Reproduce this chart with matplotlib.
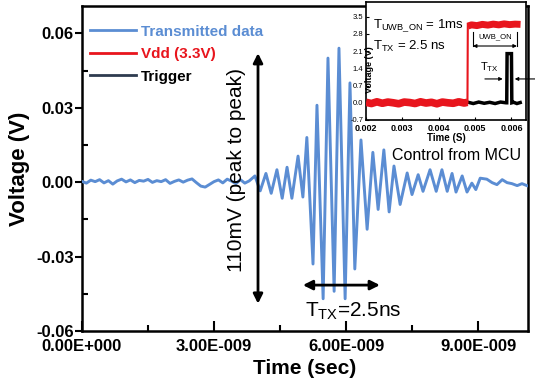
import matplotlib
matplotlib.use('Agg')
import matplotlib.pyplot as plt
from matplotlib.lines import Line2D

plt.rcParams['font.family'] = ['Liberation Sans', 'DejaVu Sans']
plt.rcParams['mathtext.fontset'] = 'custom'
plt.rcParams['mathtext.rm'] = 'Liberation Sans'
plt.rcParams['mathtext.it'] = 'Liberation Sans:italic'
plt.rcParams['mathtext.bf'] = 'Liberation Sans:bold'

# ---------------- data (main waveform) ----------------
noise_t_ns = [0.0, 0.1, 0.2, 0.3, 0.4, 0.5, 0.6, 0.7, 0.8, 0.9,
              1.0, 1.1, 1.2, 1.3, 1.4, 1.5, 1.6, 1.7, 1.8, 1.9,
              2.0, 2.1, 2.2, 2.3, 2.4, 2.5, 2.6, 2.7, 2.8, 2.9,
              3.0, 3.1, 3.2, 3.3, 3.4, 3.5, 3.6, 3.7, 3.8]
noise_mv = [0.3, -0.4, 0.8, 0.2, 1.0, -0.3, 0.6, -0.8, 0.5, 1.2,
            0.1, 0.9, -0.2, 0.7, 0.4, 1.1, -0.1, 0.6, 0.2, 1.0,
            -0.5, 0.3, 0.9, 0.0, 0.8, 1.3, -0.2, -1.6, -2.0, -0.9,
            0.2, 0.9, -0.3, 1.2, 0.4, -0.6, 1.0, -0.4, 0.5]
burst_t_ns = [3.93, 4.05, 4.18, 4.30, 4.43, 4.55, 4.66, 4.77, 4.91, 5.02,
              5.11, 5.25, 5.34, 5.48, 5.59, 5.73, 5.84, 5.98, 6.09, 6.20,
              6.34, 6.48, 6.61, 6.73, 6.86, 6.98, 7.09, 7.23, 7.39, 7.50,
              7.64, 7.75, 7.91, 8.05, 8.18, 8.30, 8.41, 8.50, 8.64, 8.75,
              8.86, 8.95, 9.05, 9.20, 9.32, 9.43, 9.55, 9.66, 9.77, 9.89,
              10.0, 10.11]
burst_mv = [2.5, -3.5, 3.5, -4.5, 5.0, -6.5, 6.0, -6.5, 10.5, -6.0,
            18.0, -33.0, 31.0, -47.0, 50.0, -44.0, 54.0, -47.0, 40.0, -35.0,
            17.0, -19.0, 12.0, -11.0, 13.0, -12.0, 6.5, -9.0, 3.7, -5.0,
            3.0, -3.7, 5.0, -3.7, 5.0, -3.7, 3.5, -4.0, 2.5, -4.0,
            -0.4, -3.0, 1.6, 1.2, -0.2, -1.0, 1.0, -0.2, -0.6, -1.4,
            -0.6, -1.4]

# ---------------- data (inset) ----------------
vdd_low_t = [0.00200, 0.00215, 0.00230, 0.00245, 0.00260, 0.00275, 0.00290, 0.00305,
             0.00320, 0.00335, 0.00350, 0.00365, 0.00380, 0.00395, 0.00410, 0.00425,
             0.00440, 0.00455, 0.00470, 0.00479]
vdd_low_v = [0.02, -0.03, 0.04, -0.02, 0.03, 0.00, -0.04, 0.03, 0.01, -0.03,
             0.04, -0.01, 0.02, -0.04, 0.03, 0.00, -0.02, 0.04, -0.01, 0.02]
vdd_edge_t = [0.00479, 0.00480]
vdd_edge_v = [0.0, 3.2]
vdd_high_t = [0.00480, 0.00490, 0.00505, 0.00520, 0.00535, 0.00550, 0.00565, 0.00580,
              0.00595, 0.00610, 0.00625]
vdd_high_v = [3.12, 3.17, 3.14, 3.19, 3.16, 3.20, 3.17, 3.21, 3.18, 3.20, 3.19]
trig_t = [0.00481, 0.00495, 0.00510, 0.00525, 0.00540, 0.00555, 0.00570, 0.00585,
          0.00587, 0.00588, 0.00600, 0.00601, 0.00606, 0.00615, 0.00624]
trig_v = [0.02, -0.03, 0.03, -0.02, 0.02, -0.03, 0.03, 0.0,
          0.0, 2.0, 2.0, 0.0, 0.02, -0.03, 0.01]

time_s = [t * 1e-9 for t in noise_t_ns + burst_t_ns]
volt_v = [v * 1e-3 for v in noise_mv + burst_mv]

x_ticks = [0.0, 3e-9, 6e-9, 9e-9]
x_tick_labels = ['0.00E+000', '3.00E-009', '6.00E-009', '9.00E-009']
y_ticks = [-0.06, -0.03, 0.0, 0.03, 0.06]
y_tick_labels = ['-0.06', '-0.03', '0.00', '0.03', '0.06']
in_x_ticks = [0.002, 0.003, 0.004, 0.005, 0.006]
in_x_labels = ['0.002', '0.003', '0.004', '0.005', '0.006']
in_y_ticks = [-0.7, 0.0, 0.7, 1.4, 2.1, 2.8, 3.5]
in_y_labels = ['-0.7', '0.0', '0.7', '1.4', '2.1', '2.8', '3.5']

BLUE = '#5b8dd3'
RED = '#e8151d'
TRIG = '#2e3b4f'

fig = plt.figure(figsize=(5.35, 3.92), dpi=100)
ax = fig.add_axes([82 / 535, 61 / 392, 446 / 535, 325 / 392])

ax.plot(time_s, volt_v, color=BLUE, lw=2.1, solid_joinstyle='round', zorder=3)
ax.set_xlim(0, 1.0136e-8)
ax.set_ylim(-0.06, 0.071)

ax.set_xticks(x_ticks)
ax.set_xticklabels(x_tick_labels, fontsize=12, fontweight='bold')
ax.set_xticks([1.5e-9, 4.5e-9, 7.5e-9], minor=True)
ax.set_yticks(y_ticks)
ax.set_yticklabels(y_tick_labels, fontsize=12, fontweight='bold')
ax.set_yticks([-0.045, -0.015, 0.015, 0.045], minor=True)
ax.tick_params(axis='x', which='major', direction='in', length=7, width=1.5, pad=6)
ax.tick_params(axis='x', which='minor', direction='in', length=4, width=1.5)
ax.tick_params(axis='y', which='major', direction='out', length=5, width=1.5, pad=1)
ax.tick_params(axis='y', which='minor', direction='in', length=4, width=1.5)
for s in ax.spines.values():
    s.set_linewidth(1.8)

ax.set_xlabel('Time (sec)', fontsize=15, fontweight='bold', labelpad=3)
ax.set_ylabel('Voltage (V)', fontsize=16, fontweight='bold', labelpad=4)

handles = [Line2D([], [], color=BLUE, lw=2), Line2D([], [], color=RED, lw=2),
           Line2D([], [], color=TRIG, lw=2)]
leg = ax.legend(handles, ['Transmitted data', 'Vdd (3.3V)', 'Trigger'],
                loc='upper left', bbox_to_anchor=(-0.005, 0.975), frameon=False,
                handlelength=3.0, handletextpad=0.3, labelspacing=0.55, borderaxespad=0.3,
                prop={'size': 11, 'weight': 'bold'})
for txt, c in zip(leg.get_texts(), [BLUE, RED, 'black']):
    txt.set_color(c)

# vertical peak-to-peak arrow
ax.annotate('', xy=(4.0e-9, -0.049), xytext=(4.0e-9, 0.052),
            arrowprops=dict(arrowstyle='<|-|>', color='black', lw=2, mutation_scale=14,
                            shrinkA=0, shrinkB=0), zorder=4)
ax.text(3.52e-9, 0.0048, '110mV (peak to peak)', rotation=90, ha='center', va='center',
        fontsize=15, zorder=4)
# horizontal TTX arrow
ax.annotate('', xy=(5.02e-9, -0.0415), xytext=(6.77e-9, -0.0415),
            arrowprops=dict(arrowstyle='<|-|>', color='black', lw=2, mutation_scale=14,
                            shrinkA=0, shrinkB=0), zorder=4)
ax.text(5.07e-9, -0.052, r'T$_{\mathrm{TX}}$=2.5ns', ha='left', va='center', fontsize=15,
        zorder=4)
ax.text(7.05e-9, 0.0109, 'Control from MCU', ha='left', va='center', fontsize=11.5, zorder=4)

# ---------------- inset ----------------
ai = fig.add_axes([366 / 535, 272 / 392, 160 / 535, 118 / 392])
ai.set_facecolor('white')
ai.plot(vdd_low_t, vdd_low_v, color=RED, lw=5.5, solid_capstyle='butt', zorder=3)
ai.plot(vdd_edge_t, vdd_edge_v, color=RED, lw=1.5, zorder=3)
ai.plot(vdd_high_t, vdd_high_v, color=RED, lw=5, solid_capstyle='butt', zorder=3)
ai.plot(trig_t, trig_v, color='black', lw=2.5, solid_joinstyle='miter', zorder=2)
ai.set_xlim(0.002, 0.0064)
ai.set_ylim(-0.7, 4.1)
ai.set_xticks(in_x_ticks)
ai.set_xticklabels(in_x_labels, fontsize=6.5, fontweight='bold')
ai.set_yticks(in_y_ticks)
ai.set_yticklabels(in_y_labels, fontsize=5.5)
ai.tick_params(direction='in', length=2, width=0.8, pad=2)
ai.tick_params(axis='x', pad=3)
for s in ai.spines.values():
    s.set_linewidth(1.2)
ai.set_xlabel('Time (S)', fontsize=7, fontweight='bold', labelpad=0)
ai.set_ylabel('Voltage (V)', fontsize=6.5, fontweight='bold')
ai.yaxis.set_label_coords(0.05, 0.43)

ai.text(0.00219, 3.12, r'T$_{\mathrm{UWB\_ON}}$ = 1ms', fontsize=9.5, ha='left', va='center')
ai.text(0.00219, 2.31, r'T$_{\mathrm{TX}}$ = 2.5 ns', fontsize=9.5, ha='left', va='center')
ai.annotate('', xy=(0.00494, 2.31), xytext=(0.00615, 2.31),
            arrowprops=dict(arrowstyle='<|-|>', color='black', lw=0.8, mutation_scale=5,
                            shrinkA=0, shrinkB=0))
ai.plot([0.00494, 0.00494], [2.3, 2.9], color='black', lw=0.8)
ai.plot([0.00615, 0.00615], [2.3, 2.9], color='black', lw=0.8)
ai.text(0.00555, 2.67, 'UWB_ON', fontsize=5.5, ha='center', va='center')
ai.text(0.00538, 1.46, r'T$_{\mathrm{TX}}$', fontsize=8, ha='center', va='center')
ai.annotate('', xy=(0.00576, 0.97), xytext=(0.00527, 0.97),
            arrowprops=dict(arrowstyle='-|>', color='black', lw=0.8, mutation_scale=5,
                            shrinkA=0, shrinkB=0))
ai.annotate('', xy=(0.00609, 0.97), xytext=(0.00666, 0.97),
            arrowprops=dict(arrowstyle='-|>', color='black', lw=0.8, mutation_scale=5,
                            shrinkA=0, shrinkB=0), annotation_clip=False)

fig.savefig('out.png', dpi=100)
